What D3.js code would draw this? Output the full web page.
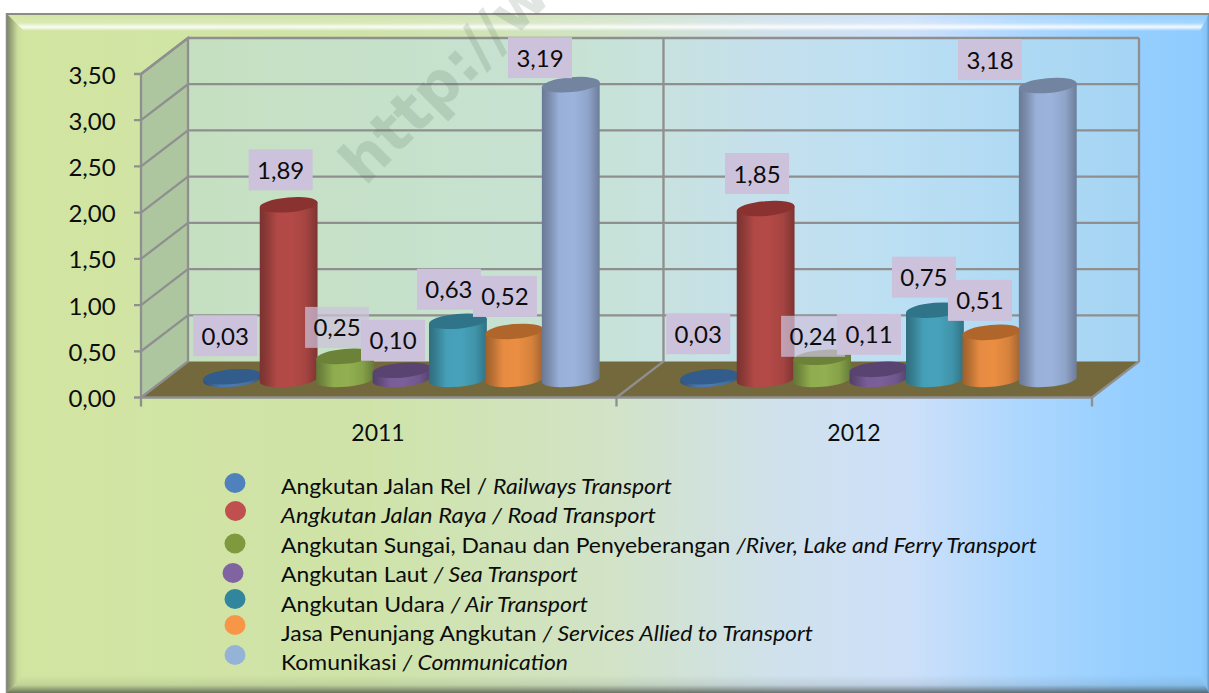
<!DOCTYPE html>
<html><head><meta charset="utf-8">
<script src="https://cdn.jsdelivr.net/npm/d3@7"></script>
<style>html,body{margin:0;padding:0;background:#fff;overflow:hidden}svg{display:block}text{font-family:Lato,"Open Sans",sans-serif;fill:#0c0c0c}</style>
</head><body><svg id="c" width="1209" height="693"></svg>
<script>
const years = ["2011","2012"];
const seriesNames = ["Railways","Road","River","Sea","Air","Services","Communication"];
const values2011 = [0.03,1.89,0.25,0.10,0.63,0.52,3.19];
const values2012 = [0.03,1.85,0.24,0.11,0.75,0.51,3.18];
const yTicks = [0,0.5,1,1.5,2,2.5,3,3.5];
const baseColors = ["#4a79b0","#b44a47","#92b050","#7a5f9a","#46a2ba","#ea8e42","#9cb3dc"];
const topColors = ["#325c8c","#8a3230","#6b8238","#594370","#2f7488","#b0662b","#72849f"];
const legendColors = ["#4f81bd","#c0504d","#7f9a3e","#8064a2","#31859c","#f79646","#95b3d7"];
const labelOffsets2011 = [[-7,-41],[-8,-35],[-8,-29],[-8.5,-30],[-9,-32],[-9.4,-35],[-30.8,-27]];
const labelOffsets2012 = [[-11,-43],[-8.6,-35],[-9,-21],[-9.5,-35],[-11,-33],[-11.4,-32],[-57.8,-26]];
const legendItems = [
 [["Angkutan Jalan Rel / ",0],["Railways Transport",1]],
 [["Angkutan Jalan Raya / Road Transport",1]],
 [["Angkutan Sungai, Danau dan Penyeberangan ",0],["/River, Lake and Ferry Transport",1]],
 [["Angkutan Laut ",0],["/ Sea Transport",1]],
 [["Angkutan Udara ",0],["/ Air Transport",1]],
 [["Jasa Penunjang Angkutan ",0],["/ Services Allied to Transport",1]],
 [["Komunikasi ",0],["/ Communication",1]]
];
const legendWidths = [391,375,756,297,307,532,287];
const legendDotX = [235,235.5,235,233,235,235,235];
const legendDotY = [483,511,543.5,573,599,625,655];
const legendTextY = [494,523,553,582,612,641,670];

const svg = d3.select("#c"), defs = svg.append("defs");
const y = d3.scaleLinear().domain([0,3.5]).range([397.5,74]);
const depthX = 47, depthY = -36;
const F = {x0:141, x1:1092};

function lg(id,stops,vert){const g=defs.append("linearGradient").attr("id",id).attr("x1",0).attr("y1",0).attr("x2",vert?0:1).attr("y2",vert?1:0);
 stops.forEach(s=>g.append("stop").attr("offset",s[0]).attr("stop-color",s[1]).attr("stop-opacity",s[2]===undefined?1:s[2]));}
lg("bg",[[0,"#d2e5a0"],[.3,"#cfe3a9"],[.5,"#d2e3c6"],[.64,"#d0e1ec"],[.75,"#cde0f9"],[.84,"#aed7fe"],[.93,"#96cfff"],[1,"#8ecbfe"]]);
lg("wall",[[0,"#c5e0c0"],[.4,"#c7e2d3"],[.5,"#c8e2df"],[.6,"#c5e0ec"],[.75,"#bbdff3"],[1,"#a4d4f4"]]);
lg("topb",[[0,"#fff",0],[.55,"#fff",.2],[.78,"#fff",.9],[1,"#fff",0]],true);
lg("leftb",[[0,"#3c3c3c",.6],[.25,"#3c3c3c",.4],[.65,"#3c3c3c",.04],[1,"#3c3c3c",0]]);
lg("rightb",[[0,"#1c4a70",0],[.7,"#1c4a70",.06],[1,"#1c4a70",.4]]);
lg("botb",[[0,"#303830",0],[.55,"#303830",.1],[1,"#303830",.65]],true);
baseColors.forEach((c,i)=>{const d=d3.color(c);
 lg("cyl"+i,[[0,d.darker(1.1)],[.12,d.darker(.7)],[.3,d.darker(.05)],[.55,c],[.8,d.darker(.25)],[1,d.darker(1)]]);});

// panel
const pT=13,pB=693,pL=6,pR=1209;
svg.append("rect").attr("x",pL).attr("y",pT).attr("width",pR-pL).attr("height",pB-pT).attr("fill","url(#bg)");
svg.append("path").attr("d",`M${pL},${pT}L${pR},${pT}L1200,31L24,31Z`).attr("fill","url(#topb)");
svg.append("path").attr("d",`M${pL},${pT}L24,31L24,675L${pL},${pB}Z`).attr("fill","url(#leftb)");
svg.append("path").attr("d",`M${pL},${pB}L24,675L1200,675L${pR},${pB}Z`).attr("fill","url(#botb)");
svg.append("path").attr("d",`M${pR},${pT}L1200,31L1200,675L${pR},${pB}Z`).attr("fill","url(#rightb)");
svg.append("line").attr("x1",pL).attr("x2",pR).attr("y1",14).attr("y2",14).attr("stroke","#8c8c84").attr("stroke-width",2);
svg.append("line").attr("x1",pL+.5).attr("x2",pL+.5).attr("y1",pT).attr("y2",pB).attr("stroke","#8c8c84").attr("stroke-width",1.5);

// walls
const bx0=F.x0+depthX, bx1=F.x1+depthX;
svg.append("rect").attr("x",bx0).attr("y",y(3.5)+depthY).attr("width",bx1-bx0).attr("height",y(0)-y(3.5)).attr("fill","url(#wall)");
svg.append("path").attr("d",`M${F.x0},${y(0)}L${F.x0},${y(3.5)}L${bx0},${y(3.5)+depthY}L${bx0},${y(0)+depthY}Z`).attr("fill","#aec6a0");
svg.append("path").attr("d",`M${F.x0},${y(0)}L${bx0},${y(0)+depthY}L${bx1},${y(0)+depthY}L${F.x1},${y(0)}Z`).attr("fill","#73693c");

// grid
const gridC="#8f8f8f", gs=g=>g.attr("stroke",gridC).attr("stroke-width",2.3).attr("fill","none");
const midF=(F.x0+F.x1)/2;
yTicks.forEach(t=>{
 svg.append("path").call(gs).attr("d",`M${F.x0-7},${y(t)}L${F.x0},${y(t)}L${bx0},${y(t)+depthY}${t>0?`L${bx1},${y(t)+depthY}`:""}`);
 svg.append("text").attr("x",92).attr("y",y(t)+9.5).attr("text-anchor","middle").attr("font-size",24).text(d3.format(".2f")(t).replace(".",","));
});
svg.append("path").call(gs).attr("d",`M${F.x0},${y(0)}L${F.x0},${y(3.5)}L${bx0},${y(3.5)+depthY}L${bx0},${y(0)+depthY}`);
svg.append("path").call(gs).attr("d",`M${bx1},${y(3.5)+depthY}L${bx1},${y(0)+depthY}L${F.x1},${y(0)}`);
svg.append("path").call(gs).attr("d",`M${midF},${y(0)}L${midF+depthX},${y(0)+depthY}L${midF+depthX},${y(3.5)+depthY}`);
svg.append("path").call(gs).attr("d",`M${F.x0},${y(0)}L${F.x1},${y(0)}`);
[F.x0,midF,F.x1].forEach(x=>svg.append("line").call(gs).attr("x1",x).attr("x2",x).attr("y1",y(0)).attr("y2",y(0)+9));

// watermark
svg.append("text").attr("transform","translate(365,187) rotate(-45)").attr("font-size",60).style("font-weight",700).style("font-family","'DejaVu Sans'").style("fill","#4a6a55").attr("opacity",.16).text("http://w");

// cylinders
const baseline = 379.5, unit = y(0)-y(1);
const xs = [d3.scaleBand().domain(seriesNames).range([204,599]), d3.scaleBand().domain(seriesNames).range([681,1076])];
const rows = [values2011,values2012], offs=[labelOffsets2011,labelOffsets2012];
const ry = 7.4, tilt=-5;
function cylPath(cx,rx,top,bot){
 const a=tilt*Math.PI/180, dx=rx*Math.cos(a), dy=rx*Math.sin(a);
 return `M${cx-dx},${top-dy}L${cx-dx},${bot-dy}A${rx},${ry} ${tilt} 0 0 ${cx+dx},${bot+dy}L${cx+dx},${top+dy}L${cx-dx},${top-dy}Z`;
}
years.forEach((yr,k)=>{
 const X=xs[k], rx=X.bandwidth()/2+0.8;
 seriesNames.forEach((s,i)=>{
  const cx=X(s)+X.bandwidth()/2, v=rows[k][i];
  const top=baseline-v*unit;
  svg.append("path").attr("d",cylPath(cx,rx,top,baseline)).attr("fill",`url(#cyl${i})`);
  svg.append("ellipse").attr("cx",cx).attr("cy",top).attr("rx",rx).attr("ry",ry).attr("transform",`rotate(${tilt} ${cx} ${top})`).attr("fill",topColors[i]);
 });
});
// labels
years.forEach((yr,k)=>{
 const X=xs[k];
 seriesNames.forEach((s,i)=>{
  const cx=X(s)+X.bandwidth()/2, v=rows[k][i], top=baseline-v*unit;
  const lx=cx+offs[k][i][0], ly=top+offs[k][i][1];
  svg.append("rect").attr("x",lx-32).attr("y",ly-20.5).attr("width",64).attr("height",41).attr("fill","#cdc2dc").attr("opacity",(i==2)?.72:1);
  svg.append("text").attr("x",lx).attr("y",ly+9).attr("text-anchor","middle").attr("font-size",24).text(d3.format(".2f")(v).replace(".",","));
 });
});
// category labels
[[378,0],[854,1]].forEach(([x,i])=>svg.append("text").attr("x",x).attr("y",441).attr("text-anchor","middle").attr("font-size",23).text(years[i]));

// legend
legendItems.forEach((it,i)=>{
 svg.append("ellipse").attr("cx",legendDotX[i]).attr("cy",legendDotY[i]).attr("rx",10.5).attr("ry",10).attr("fill",legendColors[i]);
 const t=svg.append("text").attr("x",281).attr("y",legendTextY[i]).attr("font-size",22).attr("textLength",legendWidths[i]).attr("lengthAdjust","spacingAndGlyphs");
 it.forEach(p=>t.append("tspan").style("font-style",p[1]?"italic":"normal").text(p[0]));
});
</script></body></html>
